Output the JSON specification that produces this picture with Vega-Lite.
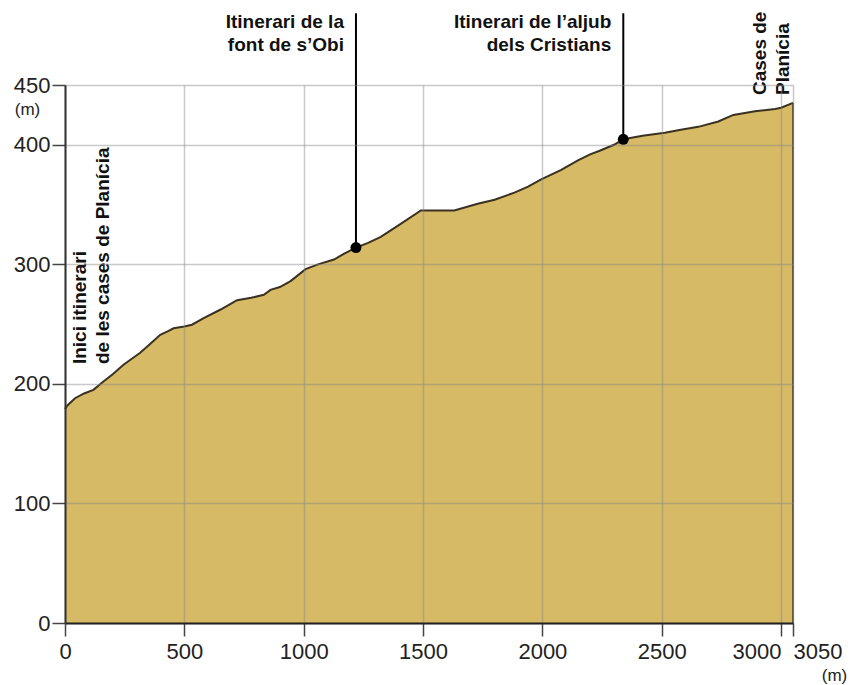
{
  "$schema": "https://vega.github.io/schema/vega-lite/v6.json",
  "width": 728,
  "height": 538,
  "autosize": {"type": "none"},
  "padding": {"left": 65, "top": 85, "right": 58, "bottom": 62},
  "background": "white",
  "config": {"view": {"stroke": null}, "font": "Liberation Sans"},
  "datasets": {
    "profile": [
      {"d": 0, "e": 179}, {"d": 10, "e": 182}, {"d": 42, "e": 188}, {"d": 80, "e": 192},
      {"d": 119, "e": 195}, {"d": 161, "e": 202}, {"d": 200, "e": 208}, {"d": 245, "e": 216},
      {"d": 280, "e": 221}, {"d": 315, "e": 226}, {"d": 360, "e": 234}, {"d": 399, "e": 241},
      {"d": 430, "e": 244}, {"d": 455, "e": 246.5}, {"d": 500, "e": 248}, {"d": 532, "e": 249.5},
      {"d": 581, "e": 255}, {"d": 650, "e": 262}, {"d": 721, "e": 270}, {"d": 780, "e": 272},
      {"d": 833, "e": 274.5}, {"d": 861, "e": 278.6}, {"d": 900, "e": 281}, {"d": 945, "e": 286},
      {"d": 1008, "e": 296}, {"d": 1060, "e": 300}, {"d": 1127, "e": 304}, {"d": 1170, "e": 309},
      {"d": 1219, "e": 314}, {"d": 1270, "e": 318}, {"d": 1323, "e": 323}, {"d": 1400, "e": 333},
      {"d": 1491, "e": 345}, {"d": 1631, "e": 345}, {"d": 1729, "e": 350.6}, {"d": 1800, "e": 354},
      {"d": 1883, "e": 360}, {"d": 1940, "e": 365}, {"d": 1995, "e": 371}, {"d": 2079, "e": 379},
      {"d": 2149, "e": 387}, {"d": 2200, "e": 392}, {"d": 2240, "e": 395}, {"d": 2300, "e": 400},
      {"d": 2339, "e": 404.6}, {"d": 2420, "e": 407.5}, {"d": 2513, "e": 410}, {"d": 2580, "e": 412.5},
      {"d": 2653, "e": 415}, {"d": 2737, "e": 419.5}, {"d": 2800, "e": 425}, {"d": 2891, "e": 428},
      {"d": 2975, "e": 430}, {"d": 3000, "e": 431}, {"d": 3050, "e": 435}
    ],
    "markers": [
      {"d": 1219, "e": 314, "top": 510, "label": "Itinerari de la\nfont de s’Obi"},
      {"d": 2339, "e": 404.6, "top": 510, "label": "Itinerari de l’aljub\ndels Cristians"}
    ],
    "vlabels": [
      {"d": 90, "e": 216.6, "label": "Inici itinerari\nde les cases de Planícia"},
      {"d": 2937, "e": 441.6, "label": "Cases de\nPlanícia"}
    ],
    "edge": [{"d": 3050, "e": 435}]
  },
  "layer": [
    {
      "data": {"name": "profile"},
      "mark": {"type": "area", "color": "#D6BA66", "opacity": 1, "fillOpacity": 1, "line": {"color": "#3a3121", "strokeWidth": 2}},
      "encoding": {
        "x": {
          "field": "d", "type": "quantitative",
          "scale": {"domain": [0, 3050], "nice": false, "zero": false},
          "axis": {
            "values": [0, 500, 1000, 1500, 2000, 2500, 3000, 3050],
            "format": "d",
            "title": "(m)", "titleX": 769, "titleY": 52, "titleAngle": 0,
            "titleAlign": "center", "titleBaseline": "middle",
            "titleFontSize": 17, "titleFontWeight": "normal", "titleColor": "#222",
            "labelFontSize": 22, "labelColor": "#222", "labelPadding": 5,
            "labelFlush": false, "labelOverlap": false, "labelBound": false,
            "labelAlign": {"condition": [{"test": "datum.value == 3000", "value": "right"}, {"test": "datum.value == 3050", "value": "left"}], "value": "center"},
            "tickSize": 13, "tickColor": "#444", "tickWidth": 1.5,
            "domainColor": "#222", "domainWidth": 2,
            "grid": true, "gridColor": "#888", "gridOpacity": 0.45, "gridWidth": 1.5,
            "zindex": 1
          }
        },
        "y": {
          "field": "e", "type": "quantitative",
          "scale": {"domain": [0, 450], "nice": false},
          "axis": {
            "values": [0, 100, 200, 300, 400, 450],
            "format": "d",
            "title": "(m)", "titleX": -38, "titleY": 24, "titleAngle": 0,
            "titleAlign": "center", "titleBaseline": "middle",
            "titleFontSize": 17, "titleFontWeight": "normal", "titleColor": "#222",
            "labelFontSize": 22, "labelColor": "#222", "labelPadding": 2,
            "labelOverlap": false, "labelBound": false, "labelFlush": false,
            "tickSize": 13, "tickColor": "#444", "tickWidth": 1.5,
            "domainColor": "#333", "domainWidth": 2,
            "grid": true, "gridColor": "#888", "gridOpacity": 0.45, "gridWidth": 1.5,
            "zindex": 1
          }
        }
      }
    },
    {
      "data": {"name": "edge"},
      "mark": {"type": "rule", "color": "#3a3121", "strokeWidth": 1.5},
      "encoding": {
        "x": {"field": "d", "type": "quantitative"},
        "y": {"field": "e", "type": "quantitative"},
        "y2": {"datum": 0}
      }
    },
    {
      "data": {"name": "markers"},
      "mark": {"type": "rule", "color": "#000", "strokeWidth": 2},
      "encoding": {
        "x": {"field": "d", "type": "quantitative"},
        "y": {"field": "e", "type": "quantitative"},
        "y2": {"field": "top"}
      }
    },
    {
      "data": {"name": "markers"},
      "mark": {"type": "point", "filled": true, "color": "#000", "size": 120, "opacity": 1},
      "encoding": {
        "x": {"field": "d", "type": "quantitative"},
        "y": {"field": "e", "type": "quantitative"}
      }
    },
    {
      "data": {"name": "markers"},
      "mark": {"type": "text", "align": "right", "baseline": "alphabetic", "dx": -12, "fontSize": 19, "fontWeight": "bold", "color": "#111", "lineBreak": "\n", "lineHeight": 23},
      "encoding": {
        "x": {"field": "d", "type": "quantitative"},
        "y": {"datum": 498, "type": "quantitative"},
        "text": {"field": "label"}
      }
    },
    {
      "data": {"name": "vlabels"},
      "mark": {"type": "text", "align": "left", "baseline": "alphabetic", "angle": 270, "fontSize": 19, "fontWeight": "bold", "color": "#111", "lineBreak": "\n", "lineHeight": 23},
      "encoding": {
        "x": {"field": "d", "type": "quantitative"},
        "y": {"field": "e", "type": "quantitative"},
        "text": {"field": "label"}
      }
    }
  ]
}
